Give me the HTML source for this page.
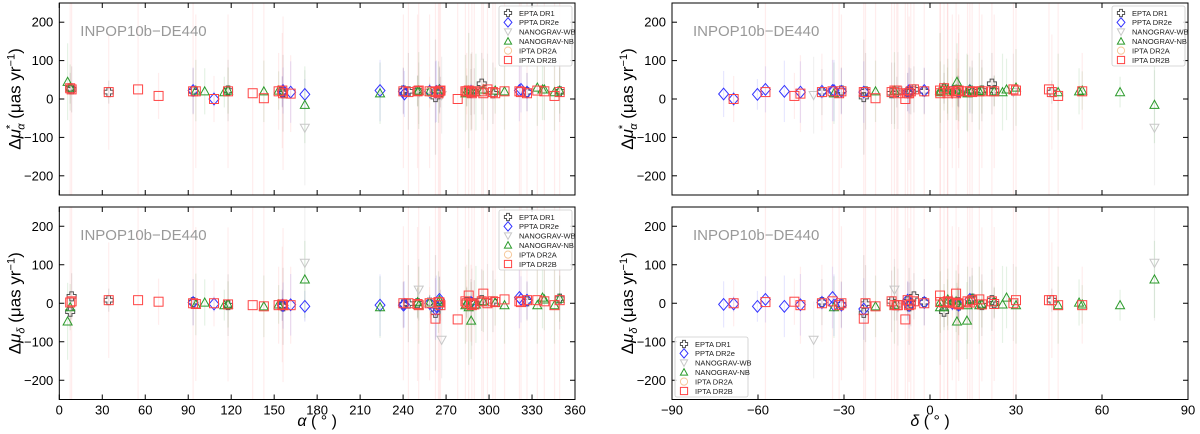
<!DOCTYPE html>
<html><head><meta charset="utf-8">
<style>
html,body{margin:0;padding:0;background:#fff;overflow:hidden;width:1200px;height:434px;}
svg{display:block;font-family:"Liberation Sans","DejaVu Sans",sans-serif;overflow:hidden;}
</style></head>
<body>
<svg id="chart" width="1200" height="434" viewBox="0 0 1200 434" xmlns="http://www.w3.org/2000/svg"></svg>
<script>
// Pulsar sky positions: right ascension (deg) and declination (deg)
const pulsarRA  = [7.6,8.6,34.5,69.3,93.4,95.3,101.5,108,117.8,135,142.8,153.1,155.7,156.2,161.5,171.4,223.9,240.2,240.9,243.7,250.1,250.9,258.5,262.6,263.2,264.7,265.4,266.1,266.9,278.1,283.5,284.4,285.8,287.4,287.5,288,289.7,290.8,294.9,296,298.9,302.7,304.3,310.8,321.2,322.3,326.5,333.7,337.3,338.6,345.7,349.3,5.8,115.2,171.4,55];
const pulsarDec = [4.9,-5.6,42.5,-47.3,-2,10,52,-68.5,18.1,-31.7,-19,53.1,10,-7.3,-45.2,78.3,-33.5,-30.9,-72,-22.5,22.4,-12.4,7.8,-23.1,-50.8,3.6,13.9,-11.6,-40.6,-8.6,13.1,9.7,3.5,-37.7,12.9,-11.2,-6.7,25.3,21.6,9.1,29.1,-13.4,6.1,17.2,-34,-57.4,-7.8,30,26.7,6.2,44.7,14.7,9.4,66.3,-60.2,41.5];
// Records: [pulsar index, dmu_alpha*, dmu_delta, err_alpha, err_delta]
const eptaData = [[1,25,18,60,60],[0,28,-22,40,40],[2,18,8,30,30],[4,20,3,60,60],[8,22,-5,80,80],[12,18,-6,40,40],[13,15,-8,100,100],[17,22,-3,60,60],[19,20,-1,100,100],[20,22,0,40,40],[22,20,2,20,20],[23,5,-25,150,150],[27,18,-5,40,40],[31,22,3,40,40],[33,18,3,60,60],[38,40,8,80,80],[36,20,0,60,60],[41,15,5,80,80],[46,18,5,50,50],[51,20,12,80,80]];
const pptaData = [[4,22,2,60,60],[7,0,-2,20,20],[12,20,-5,40,40],[13,22,-6,60,60],[14,18,-4,80,80],[54,12,-8,40,40],[16,22,-5,80,80],[17,20,-5,60,60],[18,13,-3,60,60],[24,20,-8,80,80],[33,20,2,20,20],[44,22,15,80,80],[45,25,10,60,60],[46,18,8,50,50],[22,20,0,20,20],[23,18,-15,80,80],[26,22,10,60,60]];
const nanoWBData = [[15,-75,105,150,150],[21,15,35,80,80],[35,22,-10,100,100],[40,18,2,100,100],[28,10,-95,100,100]];
const nanoNBData = [[52,45,-47,100,100],[0,30,-10,60,60],[5,22,-3,80,80],[6,20,2,60,60],[10,20,-8,80,80],[8,22,-3,60,60],[53,18,-5,40,40],[15,-15,62,100,100],[11,22,-3,50,50],[16,15,-10,80,80],[20,20,3,40,40],[21,22,-5,100,100],[22,20,2,20,20],[25,18,3,80,80],[26,25,8,60,60],[30,15,-5,100,100],[31,20,0,40,40],[32,22,-10,150,150],[34,18,-45,100,100],[37,18,-3,100,100],[39,25,5,80,80],[42,22,2,60,60],[43,20,-5,100,100],[47,30,-5,100,100],[48,25,15,80,80],[49,25,10,80,80],[50,18,-5,100,100],[51,22,12,60,60]];
const ipta2AData = [[31,20,0,60,60],[22,18,2,40,40]];
const ipta2BData = [[0,28,2,400,400],[1,25,5,400,400],[2,18,8,150,150],[55,25,8,400,400],[3,8,4,60,60],[4,20,0,300,300],[5,20,-2,200,200],[7,0,0,60,60],[8,20,-3,200,200],[9,15,-5,300,300],[10,2,-8,300,300],[11,20,-5,100,100],[12,22,-3,150,150],[13,15,-5,200,200],[14,14,-5,100,100],[17,20,0,200,200],[19,18,0,300,300],[20,20,-2,200,200],[21,22,-5,300,300],[22,20,0,200,200],[23,18,-40,300,300],[25,15,3,300,300],[26,20,2,300,300],[27,22,-5,300,300],[29,0,-42,300,300],[30,20,5,300,300],[31,20,0,100,100],[32,22,20,400,400],[33,18,0,100,100],[35,15,-5,300,300],[36,20,-3,300,300],[38,20,5,300,300],[39,15,25,300,300],[40,25,0,300,300],[41,18,5,300,300],[42,15,3,400,400],[43,20,10,300,300],[44,20,5,300,300],[45,18,3,300,300],[46,15,8,300,300],[47,22,8,400,400],[49,20,5,300,300],[50,8,-5,300,300],[51,18,8,300,300]];
const raTicks = [0,30,60,90,120,150,180,210,240,270,300,330,360];
const decTicks = [-90,-60,-30,0,30,60,90];
const yTicks = [-200,-100,0,100,200];

const NS='http://www.w3.org/2000/svg';
const svg=document.getElementById('chart');
function mk(tag,attrs,parent){const e=document.createElementNS(NS,tag);for(const k in attrs)e.setAttribute(k,attrs[k]);(parent||svg).appendChild(e);return e;}

const series=[
 {name:'EPTA DR1',data:eptaData,color:'#555',bar:'rgba(90,90,90,0.14)',shape:'plus',key:'epta'},
 {name:'PPTA DR2e',data:pptaData,color:'#3333ff',bar:'rgba(60,60,255,0.12)',shape:'diamond',key:'ppta'},
 {name:'NANOGRAV-WB',data:nanoWBData,color:'#c8c8c8',bar:'rgba(180,180,180,0.18)',shape:'tridown',key:'nanograv-wb'},
 {name:'NANOGRAV-NB',data:nanoNBData,color:'#2a9a2a',bar:'rgba(40,150,40,0.12)',shape:'triup',key:'nanograv-nb'},
 {name:'IPTA DR2A',data:ipta2AData,color:'#f5c89a',bar:'rgba(245,180,120,0.12)',shape:'circle',key:'ipta-dr2a'},
 {name:'IPTA DR2B',data:ipta2BData,color:'#ff4444',bar:'rgba(255,80,80,0.10)',shape:'square',key:'ipta-dr2b'}
];

function marker(g,shape,x,y,c,s){
 s=s||5;
 if(shape==='square')return mk('rect',{x:x-s,y:y-s,width:2*s,height:2*s,fill:'none',stroke:c,'stroke-width':1},g);
 if(shape==='diamond')return mk('polygon',{points:`${x},${y-s*1.3} ${x+s*1.1},${y} ${x},${y+s*1.3} ${x-s*1.1},${y}`,fill:'none',stroke:c,'stroke-width':1},g);
 if(shape==='triup')return mk('polygon',{points:`${x},${y-s} ${x+s},${y+s*0.8} ${x-s},${y+s*0.8}`,fill:'none',stroke:c,'stroke-width':1},g);
 if(shape==='tridown')return mk('polygon',{points:`${x},${y+s} ${x+s},${y-s*0.8} ${x-s},${y-s*0.8}`,fill:'none',stroke:c,'stroke-width':1},g);
 if(shape==='circle')return mk('circle',{cx:x,cy:y,r:s,fill:'none',stroke:c,'stroke-width':1},g);
 const a=s*0.4;
 return mk('polygon',{points:`${x-a},${y-s} ${x+a},${y-s} ${x+a},${y-a} ${x+s},${y-a} ${x+s},${y+a} ${x+a},${y+a} ${x+a},${y+s} ${x-a},${y+s} ${x-a},${y+a} ${x-s},${y+a} ${x-s},${y-a} ${x-a},${y-a}`,fill:'none',stroke:c,'stroke-width':1},g);
}

function legend(px,py,name){
 const g=mk('g',{});
 
 
 mk('rect',{x:px,y:py,width:73,height:60,fill:'#fff','fill-opacity':0.85,stroke:'#ccc','stroke-width':0.8,rx:2},g);
 series.forEach((s,i)=>{
  const e=mk('g',{},g);
  
  
  const yy=py+7+i*9.4;
  marker(e,s.shape,px+9,yy,s.color,3.6);
  const t=mk('text',{x:px+20,y:yy+2.8,'font-size':7.5,fill:'#222'},e);t.textContent=s.name;
 });
}

function panel(o){
 const g=mk('g',{});
 
 
 const sx=v=>o.x0+(v-o.xmin)/(o.xmax-o.xmin)*(o.x1-o.x0);
 const sy=v=>o.y1-(v+250)/500*(o.y1-o.y0);
 const clampY=y=>Math.max(o.y0,Math.min(o.y1,y));
 const plot=mk('g',{},g);
 series.forEach(s=>{s.data.forEach(d=>{
  const xv=o.xkey==='ra'?pulsarRA[d[0]]:pulsarDec[d[0]];
  const v=o.comp==='a'?d[1]:d[2], e=o.comp==='a'?d[3]:d[4];
  const l=mk('line',{x1:sx(xv),x2:sx(xv),y1:clampY(sy(v-e)),y2:clampY(sy(v+e)),stroke:s.bar,'stroke-width':1.2},plot);
  
  
 });});
 series.forEach(s=>{s.data.forEach(d=>{
  const xv=o.xkey==='ra'?pulsarRA[d[0]]:pulsarDec[d[0]];
  const v=o.comp==='a'?d[1]:d[2];
  const m=marker(plot,s.shape,sx(xv),sy(v),s.color,4.5);
  
  
 });});
 mk('rect',{x:o.x0,y:o.y0,width:o.x1-o.x0,height:o.y1-o.y0,fill:'none',stroke:'#000','stroke-width':1},g);
 o.xt.forEach(t=>{const x=sx(t);
  mk('line',{x1:x,x2:x,y1:o.y1,y2:o.y1-5,stroke:'#000'},g);
  mk('line',{x1:x,x2:x,y1:o.y0,y2:o.y0+5,stroke:'#000'},g);
  if(o.showX){const tx=mk('text',{x:x,y:o.y1+15,'font-size':13,'text-anchor':'middle',fill:'#000'},g);tx.textContent=(t<0?'\u2212'+(-t):t);}
 });
 yTicks.forEach(t=>{const y=sy(t);
  mk('line',{x1:o.x0,x2:o.x0+5,y1:y,y2:y,stroke:'#000'},g);
  mk('line',{x1:o.x1,x2:o.x1-5,y1:y,y2:y,stroke:'#000'},g);
  const tx=mk('text',{x:o.x0-6,y:y+4.5,'font-size':13,'text-anchor':'end',fill:'#000'},g);tx.textContent=(t<0?'\u2212'+(-t):t);
  
 });
 const ann=mk('text',{x:o.x0+21,y:o.y0+33,'font-size':15,fill:'#999'},g);ann.textContent='INPOP10b\u2212DE440';
 
 const cy=(o.y0+o.y1)/2, lx=o.x0-39;
 const yl=mk('text',{x:lx,y:cy,'font-size':17,'text-anchor':'middle',fill:'#000',transform:`rotate(-90 ${lx} ${cy})`},g);
 
 if(o.comp==='a'){yl.innerHTML='\u0394<tspan font-style="italic">\u03bc</tspan><tspan font-size="11" dy="-7">*</tspan><tspan font-size="11" font-style="italic" dy="11" dx="-5">\u03b1</tspan><tspan dy="-4"> (\u03bcas yr</tspan><tspan font-size="11" dy="-6">\u22121</tspan><tspan dy="6">)</tspan>';}
 else{yl.innerHTML='\u0394<tspan font-style="italic">\u03bc</tspan><tspan font-size="11" font-style="italic" dy="4">\u03b4</tspan><tspan dy="-4"> (\u03bcas yr</tspan><tspan font-size="11" dy="-6">\u22121</tspan><tspan dy="6">)</tspan>';}
 if(o.showX){const xl=mk('text',{x:(o.x0+o.x1)/2,y:426,'font-size':16,'text-anchor':'middle',fill:'#000'},g);
  xl.innerHTML=(o.xkey==='ra'?'<tspan font-style="italic">\u03b1</tspan>':'<tspan font-style="italic">\u03b4</tspan>')+' ( \u00b0 )';
  }
}

panel({name:'ra-alpha-panel',x0:59.3,x1:575,y0:3,y1:195,xmin:0,xmax:360,xt:raTicks,xkey:'ra',comp:'a',showX:false});
panel({name:'ra-delta-panel',x0:59.3,x1:575,y0:207,y1:399.5,xmin:0,xmax:360,xt:raTicks,xkey:'ra',comp:'d',showX:true});
panel({name:'dec-alpha-panel',x0:672,x1:1188,y0:3,y1:195,xmin:-90,xmax:90,xt:decTicks,xkey:'dec',comp:'a',showX:false});
panel({name:'dec-delta-panel',x0:672,x1:1188,y0:207,y1:399.5,xmin:-90,xmax:90,xt:decTicks,xkey:'dec',comp:'d',showX:true});
legend(499,6,'legend-ra-alpha');
legend(499,210,'legend-ra-delta');
legend(1112,6,'legend-dec-alpha');
legend(675,337,'legend-dec-delta');
</script>
</body></html>
